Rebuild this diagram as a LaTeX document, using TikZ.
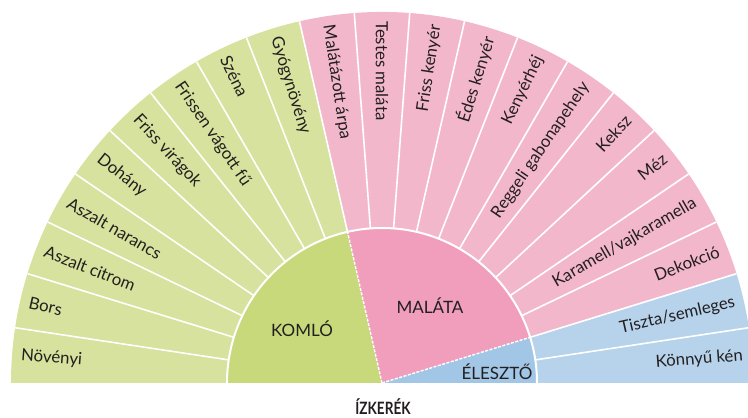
\documentclass[tikz,border=0pt]{standalone}
\usepackage{fontspec}
\setmainfont{Lato}
\definecolor{hopout}{HTML}{D6E29D}
\definecolor{hophub}{HTML}{C7D97A}
\definecolor{maltout}{HTML}{F3B7CC}
\definecolor{malthub}{HTML}{F09EBC}
\definecolor{yeastout}{HTML}{B7D3EC}
\definecolor{yeasthub}{HTML}{A2C6E6}
\definecolor{ink}{HTML}{231F20}
\begin{document}
\begin{tikzpicture}[x=1pt,y=1pt,
  sep/.style={white,line width=1.6pt},
  hubline/.style={white,line width=1.4pt,dash pattern=on 3pt off 1.5pt},
  lbl/.style={text=ink,font=\fontsize{16.8}{18}\selectfont,inner sep=0pt},
  hublbl/.style={text=ink,font=\fontsize{17}{19}\selectfont,inner sep=0pt},
  ttl/.style={text=ink,font=\fontsize{17}{19}\selectfont\bfseries,inner sep=0pt}]
\useasboundingbox (0,0) rectangle (748,418);
\begin{scope}
\clip (0,0) rectangle (748,418);
\def\R{371}
\def\r{155}
\def\st{8.5714286}
\begin{scope}[shift={(382,35)}]
  % outer ring
  \fill[hopout] (0,0) -- (180:\R) arc[start angle=180,end angle=102.857,radius=\R] -- cycle;
  \fill[maltout] (0,0) -- (102.857:\R) arc[start angle=102.857,end angle=17.143,radius=\R] -- cycle;
  \fill[yeastout] (0,0) -- (17.143:\R) arc[start angle=17.143,end angle=0,radius=\R] -- cycle;
  \foreach \i in {1,...,20}
    \draw[sep] ({180-\i*\st}:\r) -- ({180-\i*\st}:\R);
  % hub
  \fill[hophub] (0,0) -- (180:\r) arc[start angle=180,end angle=102.857,radius=\r] -- cycle;
  \fill[malthub] (0,0) -- (102.857:\r) arc[start angle=102.857,end angle=17.143,radius=\r] -- cycle;
  \fill[yeasthub] (0,0) -- (17.143:\r) arc[start angle=17.143,end angle=0,radius=\r] -- cycle;
  \draw[white,line width=2pt] (180:\r) arc[start angle=180,end angle=0,radius=\r];
  \coordinate (O) at (0,0);
  \coordinate (D1) at (102.857:\r);
  \coordinate (D2) at (17.143:\r);
  \draw[hubline] (O) -- (D1);
  \draw[hubline] (O) -- (D2);
  % labels
  \pgfmathsetmacro\rr{\R-9}
  \foreach \t [count=\i] in {Növényi,Bors,Aszalt citrom,Aszalt narancs,Dohány,Friss virágok,Frissen vágott fű,Széna,Gyógynövény,Malátázott árpa,Testes maláta,Friss kenyér,Édes kenyér,Kenyérhéj,Reggeli gabonapehely,Keksz,Méz,Karamell/vajkaramella,Dekokció,Tiszta/semleges,Könnyű kén}{
    \pgfmathsetmacro\a{180-(\i-0.5)*\st}
    \pgfmathtruncatemacro\side{\a>89.9 ? 1 : 0}
    \ifnum\side=1
      \node[lbl,anchor=west,rotate=\a-180] (L\i) at (\a:\rr) {\t};
    \else
      \node[lbl,anchor=east,rotate=\a] (L\i) at (\a:\rr) {\t};
    \fi
  }
  \node[hublbl] (komlo) at (-80,54) {KOMLÓ};
  \node[hublbl] (malata) at (48,77) {MALÁTA};
  \node[hublbl] (eleszto) at (115,11) {ÉLESZTŐ};
\end{scope}
\end{scope}
\node[ttl,anchor=base] (title) at (383,3.5) {\scalebox{0.8}[1]{ÍZKERÉK}};
\end{tikzpicture}
\end{document}
